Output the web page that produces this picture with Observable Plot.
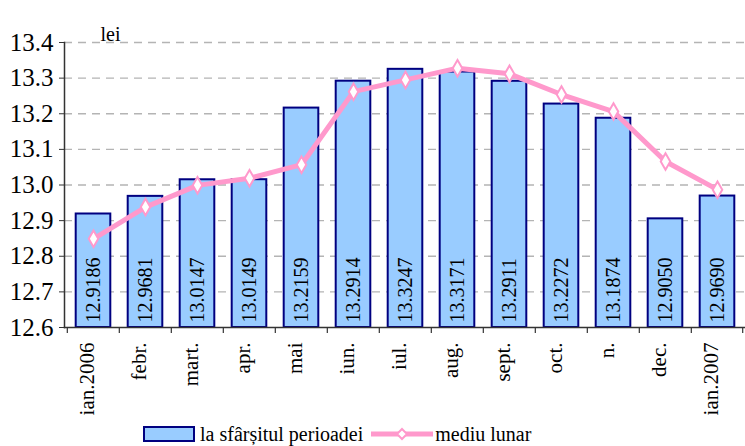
<!DOCTYPE html>
<html><head><meta charset="utf-8">
<script src="https://cdn.jsdelivr.net/npm/d3@7"></script>
<script src="https://cdn.jsdelivr.net/npm/@observablehq/plot@0.6"></script>
</head>
<body style="margin:0;padding:0;background:#fff;font-family:'Times New Roman'">
<div id="c"></div>
<div style="display:flex;align-items:center;height:24px;padding-left:143px;font-size:20px;color:#000;font-family:'Times New Roman'">
  <svg width="52" height="16"><rect x="1" y="1" width="50" height="14" fill="#99CCFF" stroke="#000080" stroke-width="2"/></svg>
  <span style="margin-left:5px;margin-right:8px">la sfârșitul perioadei</span>
  <svg width="62" height="16"><line x1="0" y1="8" x2="62" y2="8" stroke="#FF99CC" stroke-width="5"/><path d="M31,3 L36,8 L31,13 L26,8 Z" fill="#fff" stroke="#FF99CC" stroke-width="2"/></svg>
  <span style="margin-left:2px">mediu lunar</span>
</div>
<script>
const months = ["ian.2006","febr.","mart.","apr.","mai","iun.","iul.","aug.","sept.","oct.","n.","dec.","ian.2007"];
const endOfPeriod = [12.9186,12.9681,13.0147,13.0149,13.2159,13.2914,13.3247,13.3171,13.2911,13.2272,13.1874,12.9050,12.9690];
const monthlyAvg = [12.849,12.938,12.999,13.019,13.057,13.262,13.295,13.328,13.312,13.254,13.206,13.066,12.987];
const yTicks = [12.6,12.7,12.8,12.9,13.0,13.1,13.2,13.3,13.4];

const data = months.map((m, i) => ({month: m, end: endOfPeriod[i], avg: monthlyAvg[i]}));

const W = 745, H = 422, mL = 64, mR = 0, mT = 42, mB = 95;
const step = (W - mL - mR) / months.length;
const plotH = H - mT - mB;
const FF = "Times New Roman";

document.getElementById("c").appendChild(Plot.plot({
  width: W, height: H,
  marginLeft: mL, marginRight: mR, marginTop: mT, marginBottom: mB,
  style: {fontFamily: FF},
  x: {domain: months, padding: 0, axis: null},
  y: {domain: [12.6, 13.4], axis: null},
  marks: [
    Plot.ruleY(yTicks.filter(d => d > 12.6), {y: d => d, stroke: "#b4b4b4", strokeDasharray: "8,6", strokeWidth: 1.3}),
    Plot.barY(data, {x: "month", y1: 12.6, y2: "end", fill: "#99CCFF", stroke: "#000080", strokeWidth: 2, insetLeft: 8.7, insetRight: 8.7}),
    Plot.text(data, {x: "month", y: 12.6, text: d => d.end.toFixed(4), rotate: -90, textAnchor: "start", dy: -5, fontSize: 20, fontFamily: FF, fill: "#000"}),
    Plot.frame({anchor: "left", stroke: "#333", strokeWidth: 1.5}),
    Plot.frame({anchor: "bottom", stroke: "#333", strokeWidth: 1.5}),
    Plot.axisY({ticks: yTicks, tickSize: 5, tickPadding: 6, tickFormat: d3.format(".1f"), fontSize: 25, fontFamily: FF, label: null, stroke: "#333", fill: "#000"}),
    Plot.ruleX(months, {x: d => d, dx: -step / 2, insetTop: plotH, insetBottom: -6, stroke: "#333", strokeWidth: 1.2}),
    Plot.ruleX(months.slice(-1), {x: d => d, dx: step / 2 - 1, insetTop: plotH, insetBottom: -6, stroke: "#333", strokeWidth: 1.2}),
    Plot.text(months, {x: d => d, frameAnchor: "bottom", dy: 15, rotate: -90, textAnchor: "end", fontSize: 21, fontFamily: FF, fill: "#000"}),
    Plot.line(data, {x: "month", y: "avg", stroke: "#FF99CC", strokeWidth: 5}),
    Plot.dot(data, {x: "month", y: "avg", symbol: "diamond", r: 5, fill: "#fff", stroke: "#FF99CC", strokeWidth: 2}),
    Plot.text(["lei"], {frameAnchor: "top-left", dx: 36, dy: -16, textAnchor: "start", fontSize: 20, fontFamily: FF, fill: "#000"})
  ]
}));
</script>
</body></html>
